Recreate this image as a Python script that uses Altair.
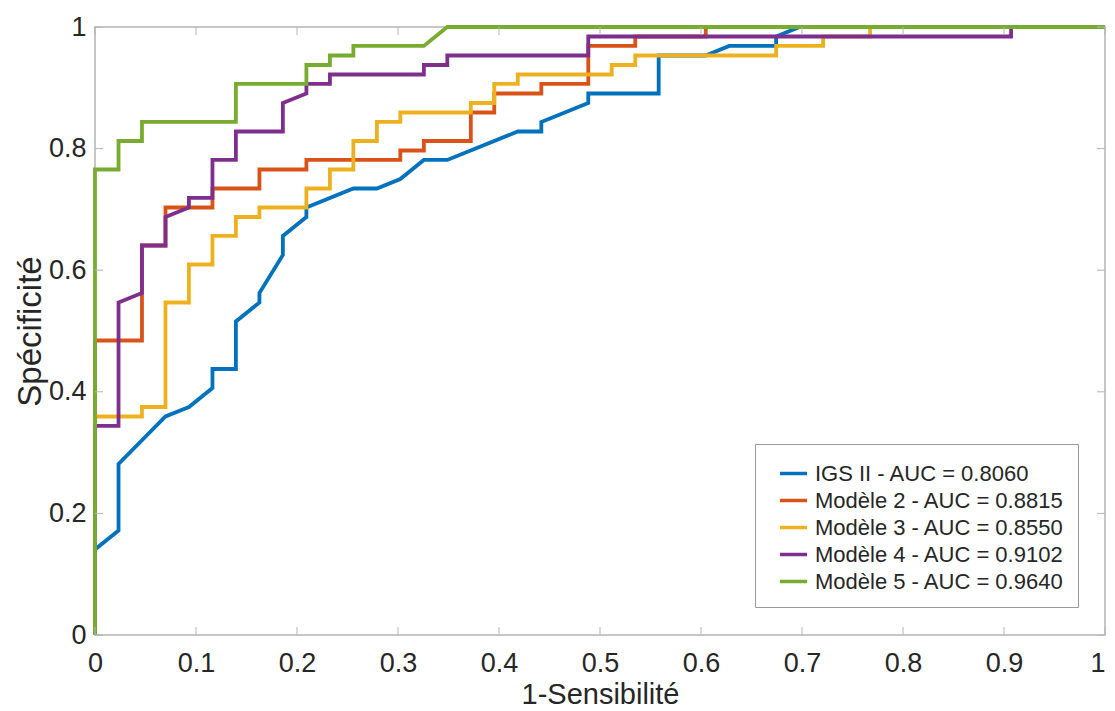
import altair as alt
import pandas as pd

series_names = [
    "IGS II - AUC = 0.8060",
    "Modèle 2 - AUC = 0.8815",
    "Modèle 3 - AUC = 0.8550",
    "Modèle 4 - AUC = 0.9102",
    "Modèle 5 - AUC = 0.9640",
]
series_colors = ["#0072BD", "#D95319", "#EDB120", "#7E2F8E", "#77AC30"]

igs_x = [0, 0, 0.0233, 0.0233, 0.0698, 0.0930, 0.1163, 0.1163, 0.1395, 0.1395, 0.1628, 0.1628,
         0.1860, 0.1860, 0.2093, 0.2093, 0.2558, 0.2791, 0.3023, 0.3256, 0.3488, 0.4186, 0.4419,
         0.4419, 0.4884, 0.4884, 0.5581, 0.5581, 0.6047, 0.6279, 0.6744, 0.6744, 0.6977, 1]
igs_y = [0, 0.1406, 0.1719, 0.2813, 0.3594, 0.375, 0.4063, 0.4375, 0.4375, 0.5156, 0.5469, 0.5625,
         0.625, 0.6563, 0.6875, 0.7031, 0.7344, 0.7344, 0.75, 0.7813, 0.7813, 0.8281, 0.8281,
         0.8438, 0.875, 0.8906, 0.8906, 0.9531, 0.9531, 0.9688, 0.9688, 0.9844, 1, 1]

m2_x = [0, 0, 0.0465, 0.0465, 0.0698, 0.0698, 0.1163, 0.1163, 0.1628, 0.1628, 0.2093, 0.2093,
        0.3023, 0.3023, 0.3256, 0.3256, 0.3721, 0.3721, 0.3953, 0.3953, 0.4419, 0.4419, 0.4884,
        0.4884, 0.5349, 0.5349, 0.6047, 0.6047, 1]
m2_y = [0, 0.4844, 0.4844, 0.6406, 0.6406, 0.7031, 0.7031, 0.7344, 0.7344, 0.7656, 0.7656, 0.7813,
        0.7813, 0.7969, 0.7969, 0.8125, 0.8125, 0.8594, 0.8594, 0.8906, 0.8906, 0.9063, 0.9063,
        0.9688, 0.9688, 0.9844, 0.9844, 1, 1]

m3_x = [0, 0, 0.0465, 0.0465, 0.0698, 0.0698, 0.0930, 0.0930, 0.1163, 0.1163, 0.1395, 0.1395,
        0.1628, 0.1628, 0.2093, 0.2093, 0.2326, 0.2326, 0.2558, 0.2558, 0.2791, 0.2791, 0.3023,
        0.3023, 0.3721, 0.3721, 0.3953, 0.3953, 0.4186, 0.4186, 0.5116, 0.5116, 0.5349, 0.5349,
        0.6744, 0.6744, 0.7209, 0.7209, 0.7674, 0.7674, 1]
m3_y = [0, 0.3594, 0.3594, 0.375, 0.375, 0.5469, 0.5469, 0.6094, 0.6094, 0.6563, 0.6563, 0.6875,
        0.6875, 0.7031, 0.7031, 0.7344, 0.7344, 0.7656, 0.7656, 0.8125, 0.8125, 0.8438, 0.8438,
        0.8594, 0.8594, 0.875, 0.875, 0.9063, 0.9063, 0.9219, 0.9219, 0.9375, 0.9375, 0.9531,
        0.9531, 0.9688, 0.9688, 0.9844, 0.9844, 1, 1]

m4_x = [0, 0, 0.0233, 0.0233, 0.0465, 0.0465, 0.0698, 0.0698, 0.0930, 0.0930, 0.1163, 0.1163,
        0.1395, 0.1395, 0.1860, 0.1860, 0.2093, 0.2093, 0.2326, 0.2326, 0.3256, 0.3256, 0.3488,
        0.3488, 0.4884, 0.4884, 0.9070, 0.9070, 1]
m4_y = [0, 0.3438, 0.3438, 0.5469, 0.5625, 0.6406, 0.6406, 0.6875, 0.7031, 0.7188, 0.7188, 0.7813,
        0.7813, 0.8281, 0.8281, 0.875, 0.8906, 0.9063, 0.9063, 0.9219, 0.9219, 0.9375, 0.9375,
        0.9531, 0.9531, 0.9844, 0.9844, 1, 1]

m5_x = [0, 0, 0.0233, 0.0233, 0.0465, 0.0465, 0.1395, 0.1395, 0.2093, 0.2093, 0.2326, 0.2326,
        0.2558, 0.2558, 0.3256, 0.3488, 1]
m5_y = [0, 0.7656, 0.7656, 0.8125, 0.8125, 0.8438, 0.8438, 0.9063, 0.9063, 0.9375, 0.9375, 0.9531,
        0.9531, 0.9688, 0.9688, 1, 1]

x_ticks = [0, 0.1, 0.2, 0.3, 0.4, 0.5, 0.6, 0.7, 0.8, 0.9, 1]
y_ticks = [0, 0.2, 0.4, 0.6, 0.8, 1]

rows = []
for name, xs, ys in zip(series_names,
                        [igs_x, m2_x, m3_x, m4_x, m5_x],
                        [igs_y, m2_y, m3_y, m4_y, m5_y]):
    for i, (a, b) in enumerate(zip(xs, ys)):
        rows.append({"serie": name, "fpr": a, "tpr": b, "idx": i})
df = pd.DataFrame(rows)

W, H = 1010, 608
TICK = 8
GREY = "#b4b4b4"
TXT = "#262626"
FONT = "Liberation Sans"

xscale = alt.Scale(domain=[0, 1], nice=False, zero=False)
yscale = alt.Scale(domain=[0, 1], nice=False, zero=False)

x_axis = alt.Axis(values=x_ticks, format="~g", title="1-Sensibilité",
                  labelBaseline="alphabetic", labelPadding=36, labelFlush=False,
                  labelAlign={"condition": {"test": "datum.value >= 1", "value": "right"},
                              "value": "center"},
                  titleX=505, titleY=68, titleBaseline="alphabetic", titleFontSize=29)
y_axis = alt.Axis(values=y_ticks, format="~g", title="Spécificité",
                  labelPadding=9, labelFlush=False, titleX=-55, titleY=304,
                  titleBaseline="alphabetic", titleAngle=270, titleFontSize=33)

lines = alt.Chart(df).mark_line(strokeWidth=3.8, strokeJoin="miter", clip=False).encode(
    x=alt.X("fpr:Q", scale=xscale, axis=x_axis),
    y=alt.Y("tpr:Q", scale=yscale, axis=y_axis),
    color=alt.Color("serie:N",
                    scale=alt.Scale(domain=series_names, range=series_colors),
                    legend=alt.Legend(title=" ", titleOrient="left", titleFontSize=4,
                                      titlePadding=9,
                                      orient="none", legendX=660, legendY=417,
                                      symbolType="stroke", symbolSize=729,
                                      symbolStrokeWidth=3.5, labelFontSize=22,
                                      labelFont=FONT, labelColor=TXT, labelOffset=6,
                                      labelLimit=0, padding=14, rowPadding=0,
                                      strokeColor="#9a9a9a", fillColor="white")),
    order=alt.Order("idx:Q"),
)

xt = pd.DataFrame({"fpr": x_ticks})
yt = pd.DataFrame({"tpr": y_ticks})

tick_bottom = alt.Chart(xt).mark_rule(color=GREY, strokeWidth=1).encode(
    x=alt.X("fpr:Q", scale=xscale, axis=x_axis), y=alt.value(H), y2=alt.value(H - TICK))
tick_top = alt.Chart(xt).mark_rule(color=GREY, strokeWidth=1).encode(
    x=alt.X("fpr:Q", scale=xscale, axis=x_axis), y=alt.value(0), y2=alt.value(TICK))
tick_left = alt.Chart(yt).mark_rule(color=GREY, strokeWidth=1).encode(
    y=alt.Y("tpr:Q", scale=yscale, axis=y_axis), x=alt.value(0), x2=alt.value(TICK))
tick_right = alt.Chart(yt).mark_rule(color=GREY, strokeWidth=1).encode(
    y=alt.Y("tpr:Q", scale=yscale, axis=y_axis), x=alt.value(W), x2=alt.value(W - TICK))

chart = alt.layer(lines, tick_bottom, tick_top, tick_left, tick_right).properties(
    width=W, height=H,
    autosize=alt.AutoSizeParams(type="none"),
    padding={"left": 87, "top": 19, "right": 2, "bottom": 75},
).configure_view(
    stroke=GREY, strokeWidth=1.5
).configure_axis(
    grid=False, domain=False, ticks=False, tickSize=0,
    labelFont=FONT, labelFontSize=27, labelColor=TXT,
    titleFont=FONT, titleFontSize=30, titleColor=TXT, titleFontWeight="normal",
)

chart.save("out.html", embed_options={"renderer": "svg", "actions": False})
